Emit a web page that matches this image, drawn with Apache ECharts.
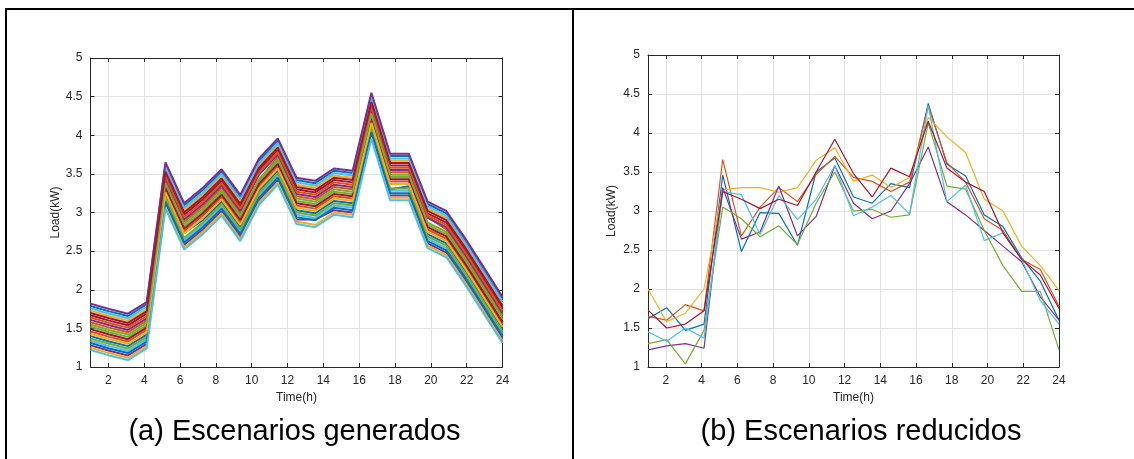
<!DOCTYPE html>
<html>
<head>
<meta charset="utf-8">
<script src="https://cdn.jsdelivr.net/npm/echarts@6/dist/echarts.min.js"></script>
<style>
html,body{margin:0;padding:0;background:#fff;}
#chart{width:1134px;height:459px;}
</style>
</head>
<body>
<div id="chart"></div>
<script>
// Time positions of the 23 samples (spread over 1..24 h)
const hours = [1, 2.045, 3.091, 4.136, 5.182, 6.227, 7.273, 8.318, 9.364, 10.409, 11.455, 12.5, 13.545, 14.591, 15.636, 16.682, 17.727, 18.773, 19.818, 20.864, 21.909, 22.955, 24];
const xTicks = [2, 4, 6, 8, 10, 12, 14, 16, 18, 20, 22, 24];
const yTicks = [1, 1.5, 2, 2.5, 3, 3.5, 4, 4.5, 5];
const matlabColors = ['#0072BD', '#D95319', '#EDB120', '#7E2F8E', '#77AC30', '#4DBEEE', '#A2142F'];

// (a) generated scenarios
const gen01 = [1.40,1.33,1.27,1.42,3.23,2.74,2.90,3.14,2.81,3.28,3.54,3.03,2.99,3.15,3.12,4.13,3.30,3.34,2.72,2.60,2.25,1.87,1.49];
const gen02 = [1.58,1.51,1.45,1.60,3.41,2.88,3.08,3.32,2.99,3.42,3.72,3.21,3.17,3.33,3.30,4.31,3.52,3.52,2.94,2.78,2.43,2.05,1.67];
const gen03 = [1.73,1.66,1.60,1.75,3.56,3.03,3.23,3.47,3.14,3.61,3.87,3.36,3.32,3.48,3.45,4.46,3.67,3.67,3.05,2.93,2.58,2.20,1.82];
const gen04 = [1.28,1.21,1.15,1.30,3.11,2.58,2.78,3.02,2.69,3.16,3.42,2.91,2.91,3.03,3.00,4.01,3.22,3.22,2.60,2.48,2.13,1.75,1.37];
const gen05 = [1.52,1.45,1.39,1.54,3.35,2.82,3.02,3.26,2.93,3.40,3.66,3.15,3.11,3.27,3.24,4.25,3.46,3.46,2.84,2.72,2.37,1.99,1.61];
const gen06 = [1.34,1.27,1.21,1.36,3.17,2.64,2.84,3.08,2.75,3.22,3.48,2.97,2.93,3.09,3.06,4.07,3.28,3.28,2.66,2.54,2.19,1.81,1.43];
const gen07 = [1.67,1.60,1.54,1.69,3.50,2.97,3.17,3.41,3.08,3.55,3.81,3.30,3.26,3.42,3.39,4.40,3.61,3.61,2.99,2.87,2.52,2.14,1.76];
const gen08 = [1.79,1.72,1.66,1.81,3.62,3.09,3.29,3.53,3.20,3.67,3.93,3.42,3.38,3.54,3.51,4.52,3.73,3.73,3.11,2.99,2.64,2.26,1.88];
const gen09 = [1.46,1.39,1.33,1.48,3.29,2.76,2.96,3.20,2.87,3.34,3.60,3.09,3.05,3.21,3.18,4.19,3.40,3.40,2.78,2.66,2.31,1.93,1.55];
const gen10 = [1.25,1.18,1.12,1.27,3.08,2.55,2.75,2.99,2.66,3.13,3.39,2.88,2.84,3.00,2.97,3.98,3.19,3.19,2.57,2.45,2.10,1.72,1.34];
const gen11 = [1.61,1.54,1.48,1.63,3.44,2.91,3.11,3.35,3.02,3.49,3.75,3.24,3.20,3.36,3.33,4.34,3.55,3.55,2.93,2.81,2.46,2.08,1.70];
const gen12 = [1.37,1.30,1.24,1.39,3.20,2.67,2.87,3.11,2.78,3.25,3.51,3.00,2.96,3.12,3.09,4.10,3.31,3.31,2.69,2.57,2.22,1.84,1.46];
const gen13 = [1.76,1.69,1.63,1.78,3.59,3.06,3.26,3.50,3.17,3.64,3.90,3.39,3.35,3.51,3.48,4.49,3.70,3.70,3.08,2.96,2.61,2.23,1.85];
const gen14 = [1.49,1.42,1.36,1.51,3.32,2.79,2.99,3.23,2.90,3.37,3.63,3.12,3.08,3.24,3.21,4.22,3.43,3.43,2.81,2.69,2.34,1.96,1.58];
const gen15 = [1.31,1.24,1.18,1.33,3.14,2.61,2.81,3.05,2.72,3.19,3.45,2.94,2.90,3.06,3.03,4.04,3.25,3.25,2.63,2.51,2.16,1.78,1.40];
const gen16 = [1.64,1.57,1.51,1.66,3.47,2.94,3.14,3.38,3.05,3.52,3.78,3.27,3.23,3.39,3.36,4.37,3.58,3.58,2.96,2.84,2.49,2.11,1.73];
const gen17 = [1.43,1.36,1.30,1.45,3.26,2.73,2.93,3.17,2.84,3.31,3.57,3.06,3.02,3.18,3.15,4.16,3.37,3.37,2.75,2.63,2.28,1.90,1.52];
const gen18 = [1.82,1.75,1.69,1.84,3.65,3.12,3.32,3.56,3.23,3.70,3.96,3.45,3.41,3.57,3.54,4.55,3.76,3.76,3.14,3.02,2.67,2.29,1.91];
const gen19 = [1.55,1.48,1.42,1.57,3.38,2.85,3.05,3.29,2.96,3.43,3.69,3.18,3.14,3.30,3.27,4.28,3.49,3.49,2.87,2.75,2.40,2.02,1.64];
const gen20 = [1.22,1.15,1.09,1.24,3.05,2.52,2.72,2.96,2.63,3.10,3.36,2.85,2.81,2.97,2.94,3.95,3.16,3.16,2.54,2.42,2.07,1.69,1.31];
const gen21 = [1.70,1.63,1.57,1.72,3.53,3.00,3.20,3.44,3.11,3.58,3.84,3.33,3.29,3.45,3.42,4.43,3.64,3.64,3.02,2.90,2.55,2.17,1.79];
const generated = [gen01, gen02, gen03, gen04, gen05, gen06, gen07, gen08, gen09, gen10, gen11, gen12, gen13, gen14, gen15, gen16, gen17, gen18, gen19, gen20, gen21];

// (b) reduced scenarios
const redBlue      = [1.62,1.76,1.47,1.55,3.46,2.48,2.98,2.97,2.56,3.50,3.68,3.18,3.10,3.35,3.30,4.38,3.60,3.45,2.95,2.80,2.40,2.10,1.60];
const redOrange    = [1.65,1.60,1.80,1.72,3.66,2.68,3.05,3.30,3.12,3.47,3.70,3.43,3.38,3.25,3.37,4.35,3.62,3.37,2.90,2.75,2.38,2.25,1.78];
const redYellow    = [2.00,1.58,1.69,2.00,3.27,3.30,3.30,3.24,3.30,3.65,3.81,3.38,3.46,3.30,3.43,4.20,3.95,3.75,3.15,3.00,2.55,2.30,1.98];
const redPurple    = [1.22,1.27,1.30,1.24,3.30,2.64,2.73,3.32,2.68,2.93,3.58,3.10,2.90,3.00,3.35,3.82,3.12,2.95,2.75,2.55,2.35,1.90,1.60];
const redGreen     = [1.30,1.35,1.04,1.47,3.05,2.90,2.67,2.81,2.57,3.10,3.50,3.00,3.02,2.92,2.95,4.13,3.32,3.28,2.75,2.30,1.97,1.97,1.22];
const redLightBlue = [1.45,1.33,1.50,1.37,3.25,3.21,2.70,3.20,2.89,3.15,3.58,2.94,3.05,3.20,2.96,4.35,3.12,3.33,2.62,2.72,2.38,1.85,1.55];
const redDarkRed   = [1.73,1.50,1.55,1.72,3.25,3.15,3.03,3.15,3.07,3.50,3.92,3.48,3.18,3.55,3.44,4.15,3.55,3.37,3.25,2.72,2.38,2.18,1.75];
const reduced = [redBlue, redOrange, redYellow, redPurple, redGreen, redLightBlue, redDarkRed];

const AX = '#262626';
const GRIDC = '#e3e3e3';
const FONT = '"Liberation Sans", Arial, sans-serif';

function pairs(vals) { return hours.map((h, i) => [h, vals[i]]); }

function xAxes(gi) {
  return [{
    type: 'value', gridIndex: gi, min: 1, max: 24, position: 'bottom',
    name: 'Time(h)', nameLocation: 'middle', nameGap: 24,
    nameTextStyle: { color: AX, fontFamily: FONT, fontSize: 12 },
    axisLine: { show: true, onZero: false, lineStyle: { color: AX, width: 1 } },
    axisTick: { show: true, inside: true, length: 4, customValues: xTicks, lineStyle: { color: AX } },
    axisLabel: { customValues: xTicks, color: AX, fontFamily: FONT, fontSize: 12, margin: 8 },
    splitLine: { show: true, lineStyle: { color: GRIDC, width: 1 } }
  }, {
    type: 'value', gridIndex: gi, min: 1, max: 24, position: 'top',
    axisLine: { show: true, onZero: false, lineStyle: { color: AX, width: 1 } },
    axisTick: { show: true, inside: true, length: 4, customValues: xTicks, lineStyle: { color: AX } },
    axisLabel: { show: false },
    splitLine: { show: false }
  }];
}
function yAxes(gi, gap) {
  return [{
    type: 'value', gridIndex: gi, min: 1, max: 5, interval: 0.5, position: 'left',
    name: 'Load(kW)', nameLocation: 'middle', nameGap: gap, nameRotate: 90,
    nameTextStyle: { color: AX, fontFamily: FONT, fontSize: 12 },
    axisLine: { show: true, onZero: false, lineStyle: { color: AX, width: 1 } },
    axisTick: { show: true, inside: true, length: 4, lineStyle: { color: AX } },
    axisLabel: { color: AX, fontFamily: FONT, fontSize: 12, margin: 8 },
    splitLine: { show: true, lineStyle: { color: GRIDC, width: 1 } }
  }, {
    type: 'value', gridIndex: gi, min: 1, max: 5, interval: 0.5, position: 'right',
    axisLine: { show: true, onZero: false, lineStyle: { color: AX, width: 1 } },
    axisTick: { show: true, inside: true, length: 4, lineStyle: { color: AX } },
    axisLabel: { show: false },
    splitLine: { show: false }
  }];
}

const series = [];
generated.forEach((vals, k) => {
  series.push({
    type: 'line', xAxisIndex: 0, yAxisIndex: 0, data: pairs(vals),
    showSymbol: false, silent: true, z: 2,
    lineStyle: { width: 2, color: matlabColors[k % 7] }
  });
});
reduced.forEach((vals, k) => {
  series.push({
    type: 'line', xAxisIndex: 2, yAxisIndex: 2, data: pairs(vals),
    showSymbol: false, silent: true, z: 2,
    lineStyle: { width: 1.2, color: matlabColors[k % 7] }
  });
});

const chart = echarts.init(document.getElementById('chart'), null, { renderer: 'canvas' });
chart.setOption({
  animation: false,
  backgroundColor: '#fff',
  grid: [
    { left: 90.5, top: 58, width: 412, height: 309, containLabel: false },
    { left: 648, top: 55, width: 411, height: 312, containLabel: false }
  ],
  xAxis: [...xAxes(0), ...xAxes(1)],
  yAxis: [...yAxes(0, 27), ...yAxes(1, 30)],
  title: [
    { text: '(a) Escenarios generados', left: 289.5, top: 412, textAlign: 'center',
      textStyle: { fontFamily: FONT, fontSize: 29, fontWeight: 'normal', color: '#000' } },
    { text: '(b) Escenarios reducidos', left: 856, top: 412, textAlign: 'center',
      textStyle: { fontFamily: FONT, fontSize: 29, fontWeight: 'normal', color: '#000' } }
  ],
  graphic: [
    { type: 'rect', shape: { x: 5, y: 8, width: 1129, height: 2 }, style: { fill: '#000' } },
    { type: 'rect', shape: { x: 5, y: 8, width: 2, height: 451 }, style: { fill: '#000' } },
    { type: 'rect', shape: { x: 572, y: 8, width: 2, height: 451 }, style: { fill: '#000' } }
  ],
  series: series
});
</script>
</body>
</html>
